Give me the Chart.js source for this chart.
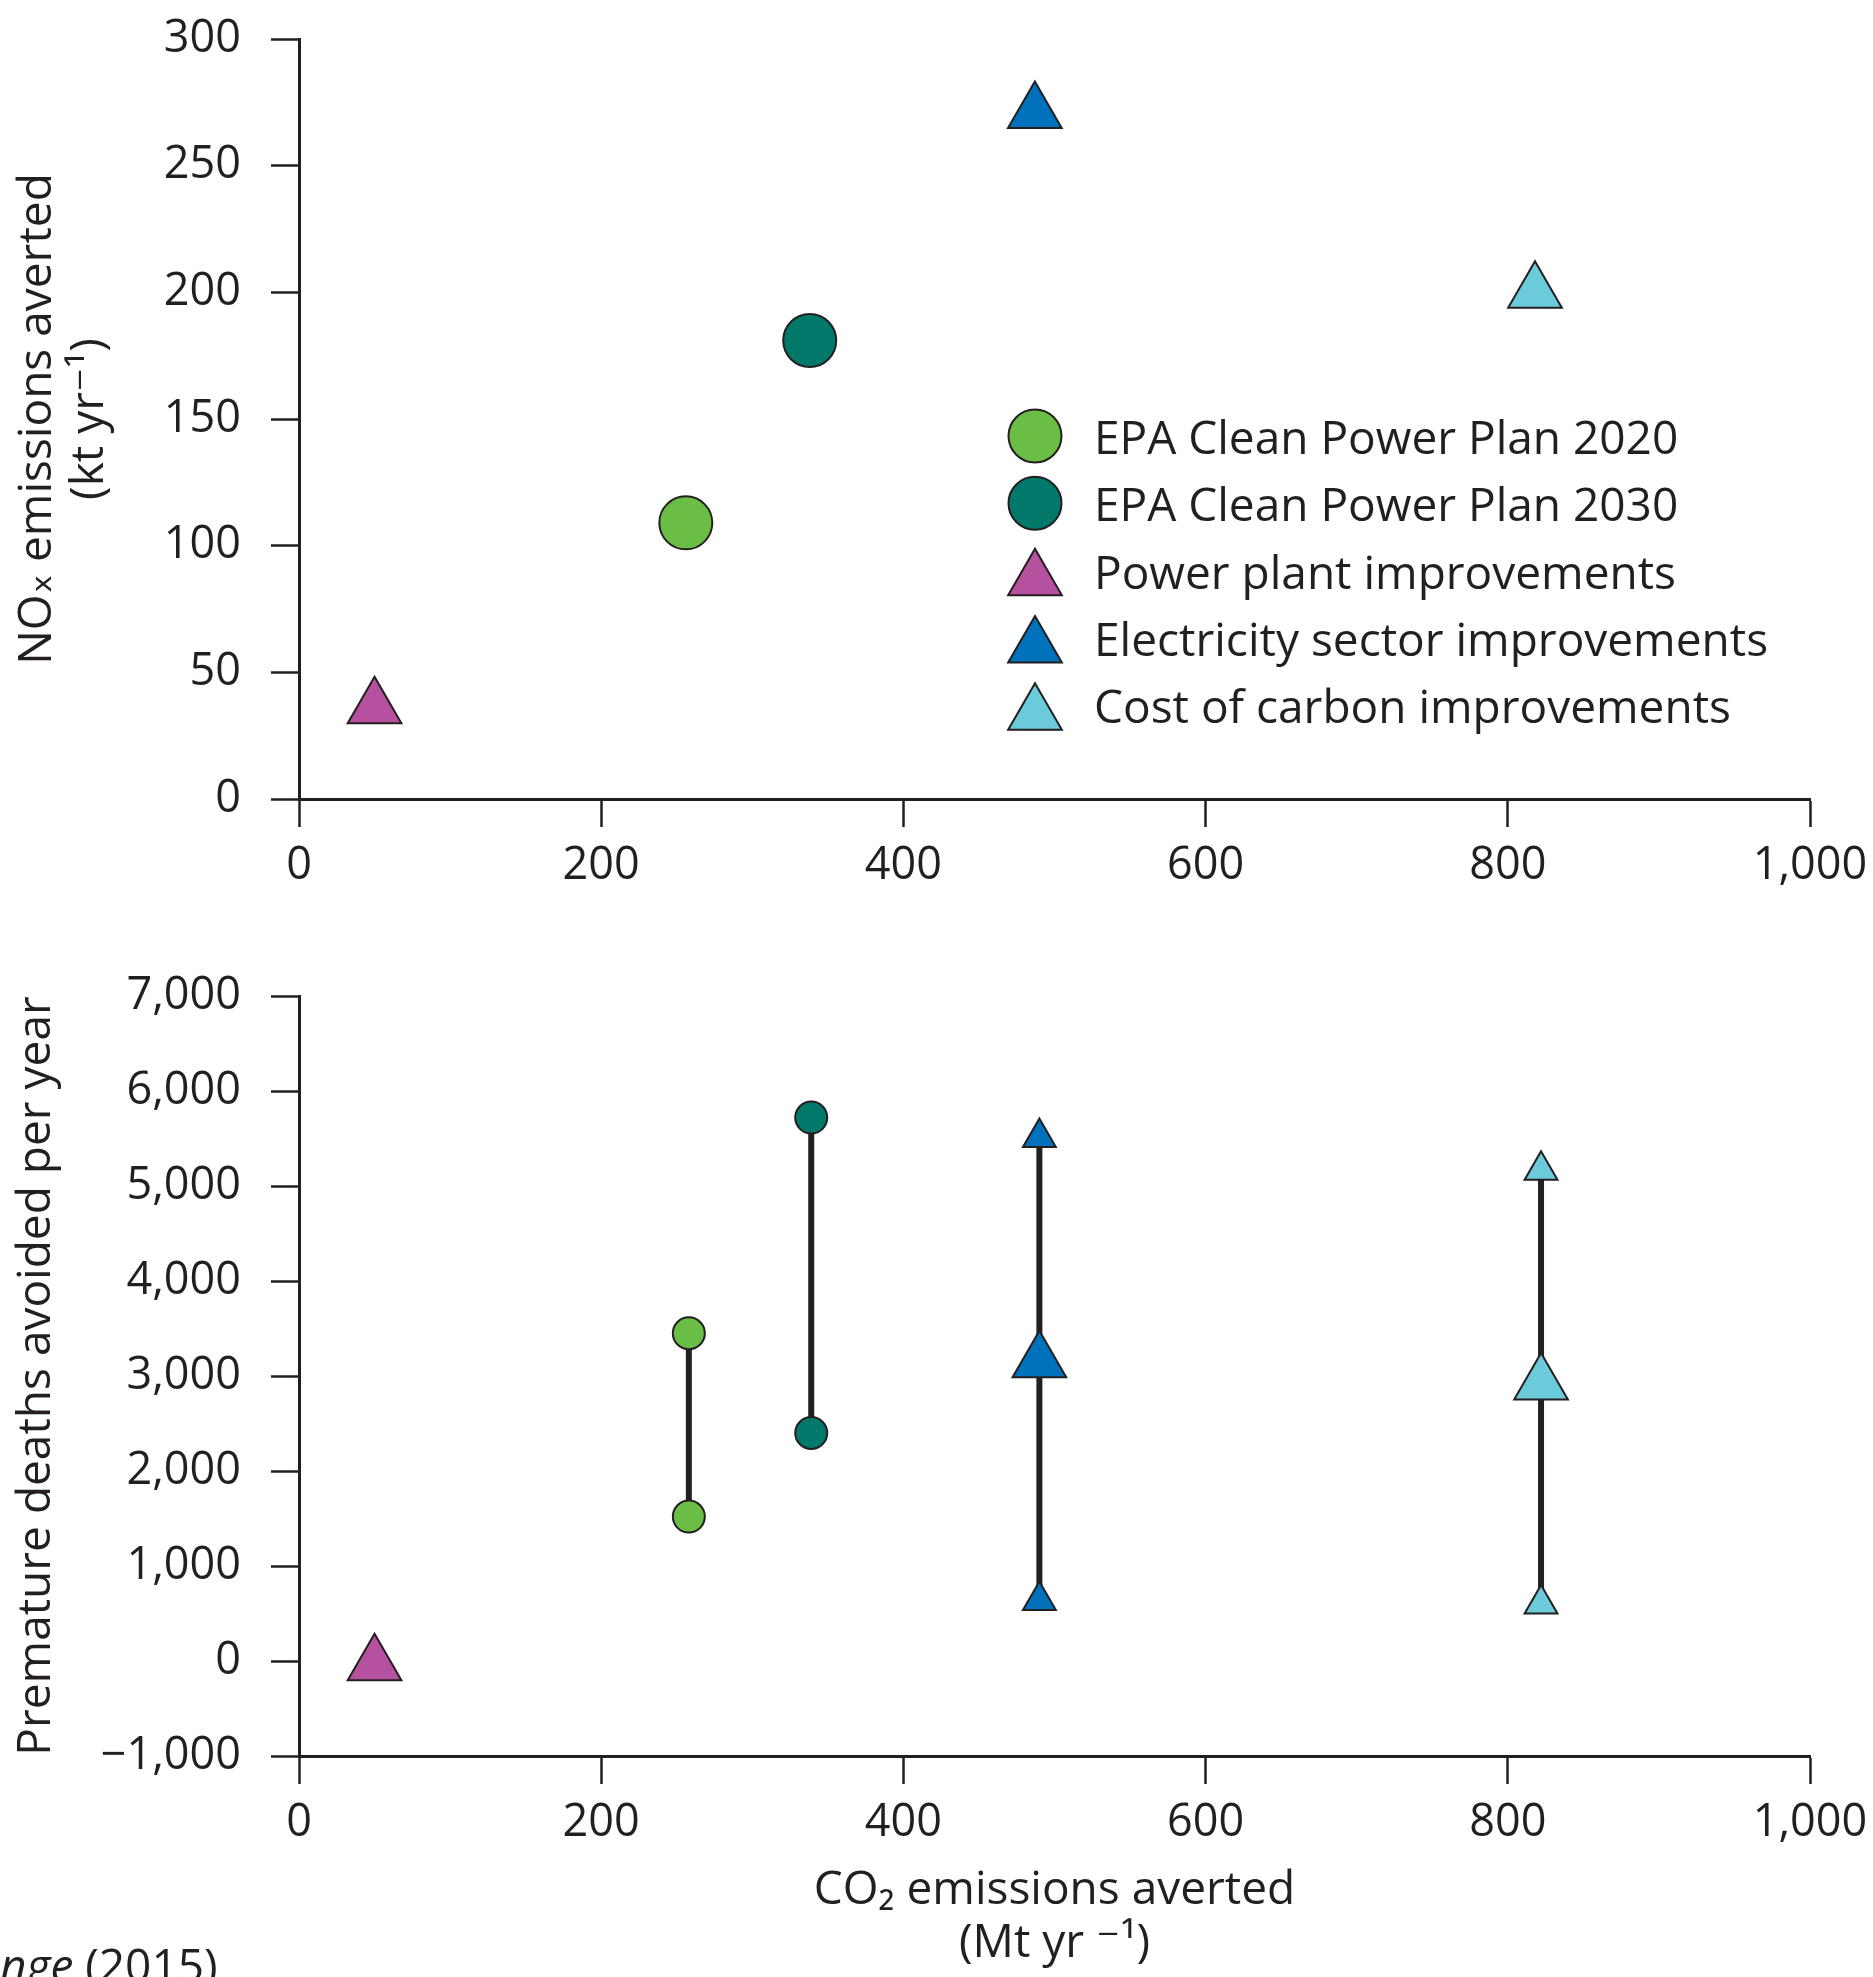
<!DOCTYPE html>
<html>
<head>
<meta charset="utf-8">
<title>NOx and premature deaths averted vs CO2 averted</title>
<script src="https://cdn.jsdelivr.net/npm/chart.js@4.4.0/dist/chart.umd.min.js"></script>
<style>
  html, body { margin: 0; padding: 0; background: #fff; }
  #page { position: relative; width: 1873px; height: 1977px; overflow: hidden; }
  #top-chart { position: absolute; left: 0; top: 0; }
  #bottom-chart { position: absolute; left: 0; top: 900px; }
  #credit {
    position: absolute; left: 0; top: 1941px;
    font-family: 'Open Sans', sans-serif; font-size: 46px; line-height: 46px;
    color: #231f20; white-space: nowrap;
  }
</style>
</head>
<body>
<div id="page">
  <canvas id="top-chart" width="1873" height="900"></canvas>
  <canvas id="bottom-chart" width="1873" height="1077"></canvas>
  <div id="credit"><i>nge</i> (2015)</div>
</div>
<script>
const seriesNames = [
  'EPA Clean Power Plan 2020',
  'EPA Clean Power Plan 2030',
  'Power plant improvements',
  'Electricity sector improvements',
  'Cost of carbon improvements'
];

// top panel: NOx averted against CO2 averted
const noxCO2 = [256, 338, 50, 487, 818];
const noxAverted = [109, 181, 36, 271, 200];

// bottom panel: premature deaths avoided, low / central / high
const deathsCO2 = [258, 339, 50, 490, 822];
const deathsLow = [1520, 2400, null, 638, 600];
const deathsMid = [null, null, -40, 3150, 2917];
const deathsHigh = [3450, 5720, null, 5510, 5166];

const co2Ticks = [0, 200, 400, 600, 800, 1000];
const noxTicks = [0, 50, 100, 150, 200, 250, 300];
const deathTicks = [-1000, 0, 1000, 2000, 3000, 4000, 5000, 6000, 7000];

// styles
const ink = '#231f20';
const FONT = "'Open Sans', 'DejaVu Sans', sans-serif";
const fills = ['#6abd45', '#00796a', '#b5519f', '#0071bb', '#6bcbdb'];
const shapes = ['circle', 'circle', 'triangle', 'triangle', 'triangle'];
const bigRadius = s => s === 'circle' ? 26.5 : 31;
const smallRadius = s => s === 'circle' ? 16 : 19;

Chart.defaults.font.family = FONT;
Chart.defaults.color = ink;

// fixed axis size, and no extra room for the end labels
function fixWidth(w) {
  return s => { s.width = w; s.paddingTop = 0; s.paddingBottom = 0; };
}
function fixHeight(h) {
  return s => { s.height = h; s.paddingLeft = 0; s.paddingRight = 0; };
}

function linearAxis(ticks, fit, title, tickPad) {
  return {
    type: 'linear',
    min: ticks[0],
    max: ticks[ticks.length - 1],
    ticks: {
      stepSize: ticks[1] - ticks[0],
      font: { size: 45 },
      color: ink,
      padding: tickPad,
      maxRotation: 0,
      autoSkip: false,
      callback: v => v.toLocaleString('en-US').replace('-', '\u2212')
    },
    grid: {
      drawOnChartArea: false,
      drawTicks: true,
      tickLength: 28,
      tickWidth: 2.5,
      tickColor: ink
    },
    border: { display: true, color: ink, width: 3 },
    title: title,
    afterFit: fit
  };
}

function axisTitle(text, pad) {
  return {
    display: true,
    text: text,
    color: ink,
    font: { size: 46, lineHeight: 1.15 },
    padding: pad
  };
}

// legend drawn inside the top plot area
const insideLegend = {
  id: 'insideLegend',
  afterDraw(chart, args, opts) {
    const ctx = chart.ctx;
    ctx.save();
    chart.data.datasets.forEach((ds, i) => {
      const base = opts.y + i * opts.rowGap;
      const my = ds.pointStyle === 'circle' ? base - 18 : base - 8.75;
      ctx.fillStyle = ds.backgroundColor;
      ctx.strokeStyle = ink;
      ctx.lineWidth = 2;
      Chart.helpers.drawPoint(ctx, {
        pointStyle: ds.pointStyle,
        radius: ds.pointRadius,
        borderWidth: 2,
        rotation: 0
      }, opts.x, my);
      ctx.fillStyle = ink;
      ctx.font = '46px ' + FONT;
      ctx.textBaseline = 'alphabetic';
      ctx.textAlign = 'left';
      ctx.fillText(ds.label, opts.textX, base);
    });
    ctx.restore();
  }
};

const topDatasets = seriesNames.map((name, i) => ({
  label: name,
  data: [{ x: noxCO2[i], y: noxAverted[i] }],
  pointStyle: shapes[i],
  pointRadius: bigRadius(shapes[i]),
  backgroundColor: fills[i],
  borderColor: ink,
  borderWidth: 2,
  clip: false
}));

new Chart(document.getElementById('top-chart'), {
  type: 'scatter',
  data: { datasets: topDatasets },
  plugins: [insideLegend],
  options: {
    responsive: false,
    animation: false,
    events: [],
    layout: { autoPadding: false, padding: { top: 39, right: 63, left: 0, bottom: 0 } },
    plugins: {
      legend: { display: false },
      tooltip: { enabled: false },
      insideLegend: { x: 1035, textX: 1094, y: 454, rowGap: 67.25 }
    },
    scales: {
      x: linearAxis(co2Ticks, fixHeight(101), { display: false }, 12),
      y: linearAxis(noxTicks, fixWidth(299),
        axisTitle(['NO\u2093 emissions averted', '(kt yr\u207B\u00B9)'], { top: 11, bottom: 0 }), 30)
    }
  }
});

// bottom panel: range lines under the markers
const bottomDatasets = [];
seriesNames.forEach((name, i) => {
  if (deathsMid[i] !== null) {
    bottomDatasets.push({
      label: name,
      data: [{ x: deathsCO2[i], y: deathsMid[i] }],
      pointStyle: shapes[i],
      pointRadius: bigRadius(shapes[i]),
      backgroundColor: fills[i],
      borderColor: ink,
      borderWidth: 2,
      clip: false,
      order: 0
    });
  }
  if (deathsLow[i] !== null) {
    bottomDatasets.push({
      label: name + ' range',
      data: [{ x: deathsCO2[i], y: deathsLow[i] }, { x: deathsCO2[i], y: deathsHigh[i] }],
      pointStyle: shapes[i],
      pointRadius: smallRadius(shapes[i]),
      backgroundColor: fills[i],
      borderColor: ink,
      borderWidth: 2,
      clip: false,
      order: 1
    });
    bottomDatasets.push({
      type: 'line',
      label: name + ' span',
      data: [{ x: deathsCO2[i], y: deathsLow[i] }, { x: deathsCO2[i], y: deathsHigh[i] }],
      borderColor: ink,
      borderWidth: 6,
      pointRadius: 0,
      showLine: true,
      fill: false,
      clip: false,
      order: 2
    });
  }
});

new Chart(document.getElementById('bottom-chart'), {
  type: 'scatter',
  data: { datasets: bottomDatasets },
  options: {
    responsive: false,
    animation: false,
    events: [],
    layout: { autoPadding: false, padding: { top: 96, right: 63, left: 0, bottom: 0 } },
    plugins: {
      legend: { display: false },
      tooltip: { enabled: false }
    },
    scales: {
      x: linearAxis(co2Ticks, fixHeight(221),
        axisTitle(['CO\u2082 emissions averted', '(Mt yr \u207B\u00B9)'], { top: 0, bottom: 7 }), 12),
      y: linearAxis(deathTicks, fixWidth(299),
        axisTitle('Premature deaths avoided per year', { top: 10, bottom: 0 }), 30)
    }
  }
});
</script>
</body>
</html>
